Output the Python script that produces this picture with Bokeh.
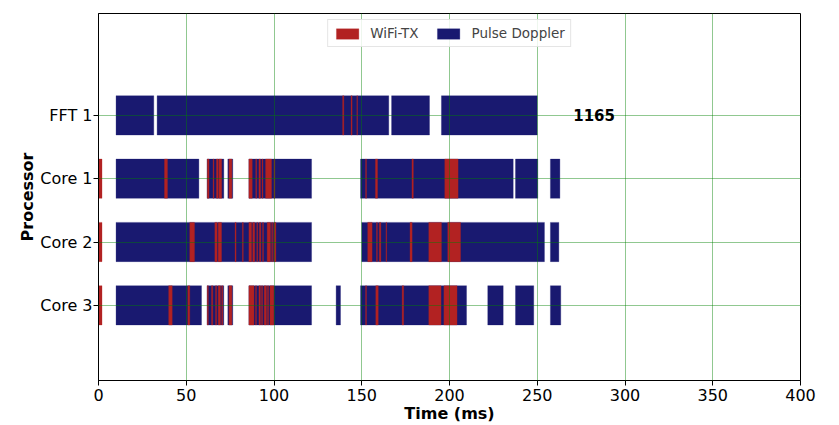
from bokeh.plotting import figure
from bokeh.models import (FixedTicker, Legend, LegendItem, Label, Range1d,
                          ColumnDataSource)
from bokeh.embed import file_html
from bokeh.resources import INLINE

# ---------------- data ----------------
row_names = ["Core 3", "Core 2", "Core 1", "FFT 1"]
row_pos = [1, 2, 3, 4]
x_ticks = [0, 50, 100, 150, 200, 250, 300, 350, 400]

# Pulse Doppler tasks (start, end) in ms
fft1_doppler = [(10, 31.5), (33.4, 165.4), (167, 188.6), (195.4, 250)]
core1_doppler = [(10, 57.2), (61.9, 71.4), (73.7, 76.5), (85.7, 121.4),
                 (149.3, 236.3), (237.6, 250.3), (257.5, 262.9)]
core2_doppler = [(10, 121.4), (150, 254.1), (257.5, 262.3)]
core3_doppler = [(10, 58.7), (61.9, 71.4), (73.7, 76.5), (85.7, 121.4),
                 (135.4, 137.9), (149.3, 209.7), (221.8, 230.6), (237.6, 248),
                 (257.5, 263.4)]

# WiFi-TX tasks (start, end) in ms
fft1_wifi = [(139.1, 139.8), (143.9, 144.5), (147.2, 147.6)]
core1_wifi = [(0, 2), (37.6, 39.3), (62, 63), (65.3, 65.8), (67.2, 68.2),
              (68.6, 70.2), (74.3, 76), (85.7, 87.6), (89.6, 90.1),
              (91.4, 92.3), (93.2, 93.7), (95.2, 98.6), (100, 100.5),
              (152.2, 152.7), (157.8, 159.0), (178.6, 179.4), (197.3, 204.9)]
core2_wifi = [(0, 2), (52, 54.7), (66.3, 67.6), (68.2, 70.1), (77.8, 78.4),
              (82, 82.5), (85.7, 87.2), (87.9, 89), (90.2, 90.7),
              (91.7, 92.5), (93.5, 94), (96.1, 98), (98.7, 99.2),
              (99.9, 101.1), (153.4, 155.9), (158.4, 158.9), (160, 160.9),
              (163.8, 164.2), (177.5, 178.7), (188.2, 195.4), (199, 206.3)]
core3_wifi = [(0, 2), (40, 42), (50.9, 52), (62, 62.6), (64.4, 65.1),
              (66.7, 67.3), (68.2, 69.5), (70.2, 70.8), (74.3, 76),
              (85.7, 88.6), (89.5, 90), (91.4, 92.3), (92.9, 93.5),
              (94.4, 95.7), (96.3, 96.9), (97.7, 99.9), (152.2, 152.7),
              (158, 159.4), (173, 173.9), (188.2, 195.2), (196.8, 204.3)]

makespan_text = "1165"
makespan_x = 270.5

BLUE = "#191970"
RED = "#b22222"
BAR_H = 0.62


def to_source(rows):
    y, left, right = [], [], []
    for pos, segs in rows:
        for s, e in segs:
            y.append(pos)
            left.append(s)
            right.append(e)
    return ColumnDataSource(dict(y=y, left=left, right=right))


doppler_src = to_source([(4, fft1_doppler), (3, core1_doppler),
                         (2, core2_doppler), (1, core3_doppler)])
wifi_src = to_source([(4, fft1_wifi), (3, core1_wifi),
                      (2, core2_wifi), (1, core3_wifi)])

# ---------------- figure ----------------
p = figure(width=839, height=425, output_backend="svg", toolbar_location=None,
           x_range=Range1d(0, 400), y_range=Range1d(1 - 76 / 64, 4 + 103 / 64),
           min_border_left=98, min_border_right=39, min_border_top=13,
           min_border_bottom=42)

r_dop = p.hbar(y="y", left="left", right="right", height=BAR_H, source=doppler_src,
               fill_color=BLUE, line_color=BLUE, line_width=0.3)
r_wifi = p.hbar(y="y", left="left", right="right", height=BAR_H, source=wifi_src,
                fill_color=RED, line_color=RED, line_width=0.3)

p.add_layout(Label(x=makespan_x, y=4, text=makespan_text, text_font="DejaVu Sans",
                   text_font_style="bold", text_font_size="15px",
                   text_baseline="middle", text_color="black"))

legend = Legend(items=[LegendItem(label="WiFi-TX", renderers=[r_wifi]),
                       LegendItem(label="Pulse Doppler", renderers=[r_dop])],
                location="top_center", orientation="horizontal",
                label_text_font="DejaVu Sans", label_text_font_size="13.5px",
                glyph_width=28, glyph_height=13, spacing=16, padding=5,
                margin=6, label_standoff=9,
                border_line_color="#cccccc", background_fill_alpha=0.85)
p.add_layout(legend)

p.xaxis.ticker = FixedTicker(ticks=x_ticks)
p.yaxis.ticker = FixedTicker(ticks=row_pos)
p.yaxis.major_label_overrides = {pos: name for pos, name in zip(row_pos, row_names)}

for ax in (p.xaxis[0], p.yaxis[0]):
    ax.major_label_text_font = "DejaVu Sans"
    ax.major_label_text_font_size = "16px"
    ax.major_label_text_color = "black"
    ax.axis_label_text_font = "DejaVu Sans"
    ax.axis_label_text_font_size = "16px"
    ax.axis_label_text_font_style = "bold"
    ax.axis_label_text_color = "black"
    ax.minor_tick_line_color = None
    ax.major_tick_out = 5
    ax.major_tick_in = 0
    ax.major_tick_line_color = "black"
    ax.axis_line_color = "black"
    ax.major_label_standoff = 3
    ax.axis_label_standoff = 4

p.xaxis.axis_label = "Time (ms)"
p.yaxis.axis_label = "Processor"
p.xaxis.axis_label_standoff = 0
p.yaxis.major_label_standoff = 1
p.yaxis.axis_label_standoff = 0

p.xgrid.grid_line_color = "green"
p.ygrid.grid_line_color = "green"
p.xgrid.grid_line_alpha = 0.55
p.ygrid.grid_line_alpha = 0.55
p.xgrid.grid_line_width = 0.8
p.ygrid.grid_line_width = 0.8
p.xgrid.level = "guide"
p.ygrid.level = "guide"

p.outline_line_color = "black"
p.outline_line_width = 1
p.outline_line_alpha = 1
p.background_fill_color = "white"
p.border_fill_color = "white"

open("out.html", "w").write(file_html(p, INLINE))
